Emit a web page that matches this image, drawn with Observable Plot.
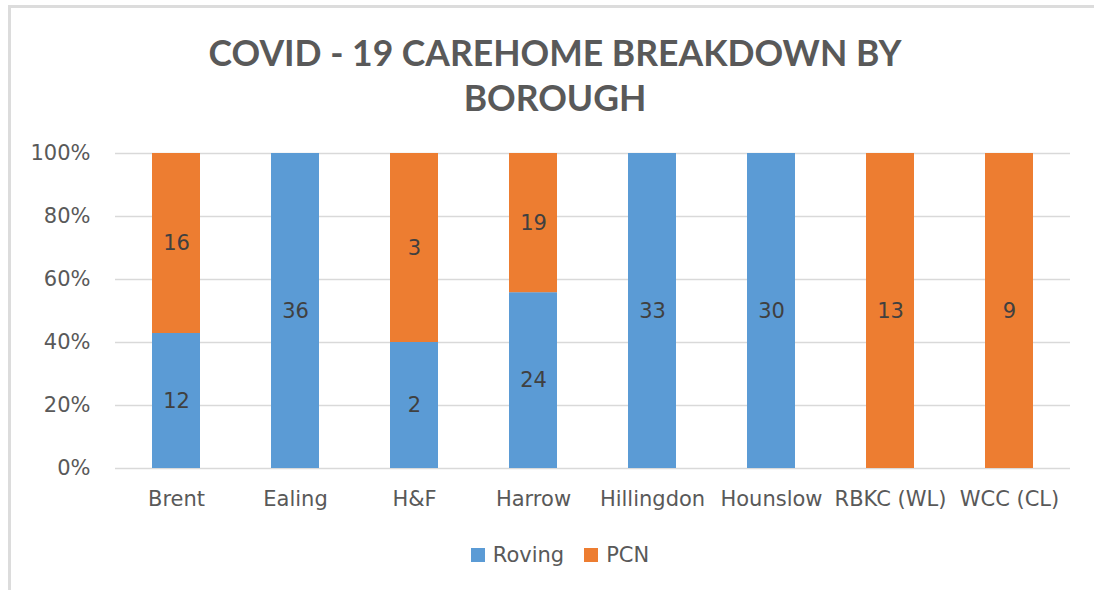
<!DOCTYPE html>
<html>
<head>
<meta charset="utf-8">
<script src="https://cdn.jsdelivr.net/npm/d3@7"></script>
<script src="https://cdn.jsdelivr.net/npm/@observablehq/plot@0.6"></script>
<style>
  html, body { margin: 0; padding: 0; background: #fff; overflow: hidden; }
  #frame { position: relative; width: 1094px; height: 590px; overflow: hidden; background: #fff; }
  #border { position: absolute; left: 8px; top: 5px; width: 1200px; height: 700px; border-left: 3px solid #dcdcdc; border-top: 3px solid #dcdcdc; }
  #title { position: absolute; left: 0; top: 30px; width: 1110px; text-align: center; font-family: Lato, sans-serif; font-weight: 700; font-size: 35.5px; line-height: 45px; color: #595959; }
  #chart { position: absolute; left: 0; top: 120px; }
  #legend { position: absolute; left: 0; top: 543px; width: 1120px; display: flex; justify-content: center; align-items: center; font-family: "DejaVu Sans", sans-serif; font-size: 21px; color: #595959; }
  .sw { display: inline-block; width: 14px; height: 14px; margin-right: 8px; }
  .item { display: inline-flex; align-items: center; margin: 0 10px; }
</style>
</head>
<body>
<div id="frame">
  <div id="border"></div>
  <div id="title">COVID - 19 CAREHOME BREAKDOWN BY<br>BOROUGH</div>
  <div id="chart"></div>
  <div id="legend"></div>
</div>
<script>
const boroughs = ["Brent", "Ealing", "H&F", "Harrow", "Hillingdon", "Hounslow", "RBKC (WL)", "WCC (CL)"];
const seriesNames = ["Roving", "PCN"];
const roving = [12, 36, 2, 24, 33, 30, 0, 0];
const pcn = [16, 0, 3, 19, 0, 0, 13, 9];
const seriesColors = ["#5B9BD5", "#ED7D31"];
const yTicks = [0, 0.2, 0.4, 0.6, 0.8, 1];

const rows = [];
boroughs.forEach((b, i) => {
  if (roving[i] > 0) rows.push({borough: b, series: "Roving", value: roving[i]});
  if (pcn[i] > 0) rows.push({borough: b, series: "PCN", value: pcn[i]});
});

const font = "DejaVu Sans, sans-serif";

const plot = Plot.plot({
  width: 1094,
  height: 400,
  marginLeft: 115,
  marginRight: 24,
  marginTop: 33,
  marginBottom: 52,
  style: { fontFamily: font, fontSize: "21px", color: "#595959", background: "transparent" },
  x: { domain: boroughs, paddingInner: 0.6, paddingOuter: 0.3, label: null },
  y: { domain: [0, 1], label: null },
  color: { domain: seriesNames, range: seriesColors },
  marks: [
    Plot.gridY(yTicks, { stroke: "#d9d9d9", strokeOpacity: 1, strokeWidth: 1.5 }),
    Plot.barY(rows, { x: "borough", y: "value", fill: "series", offset: "normalize", order: seriesNames }),
    Plot.text(rows, Plot.stackY({ x: "borough", y: "value", z: "series", text: "value", offset: "normalize", order: seriesNames, fill: "#404040", fontSize: 21 })),
    Plot.axisY(yTicks, { tickFormat: d3.format(".0%"), tickSize: 0, tickPadding: 25, fontSize: 21, fill: "#595959", label: null }),
    Plot.axisX({ tickSize: 0, tickPadding: 23, fontSize: 21, fill: "#595959", label: null })
  ]
});
document.getElementById("chart").appendChild(plot);

const legend = document.getElementById("legend");
seriesNames.forEach((s, i) => {
  const item = document.createElement("span");
  item.className = "item";
  const sw = document.createElement("span");
  sw.className = "sw";
  sw.style.background = seriesColors[i];
  item.appendChild(sw);
  item.appendChild(document.createTextNode(s));
  legend.appendChild(item);
});
</script>
</body>
</html>
